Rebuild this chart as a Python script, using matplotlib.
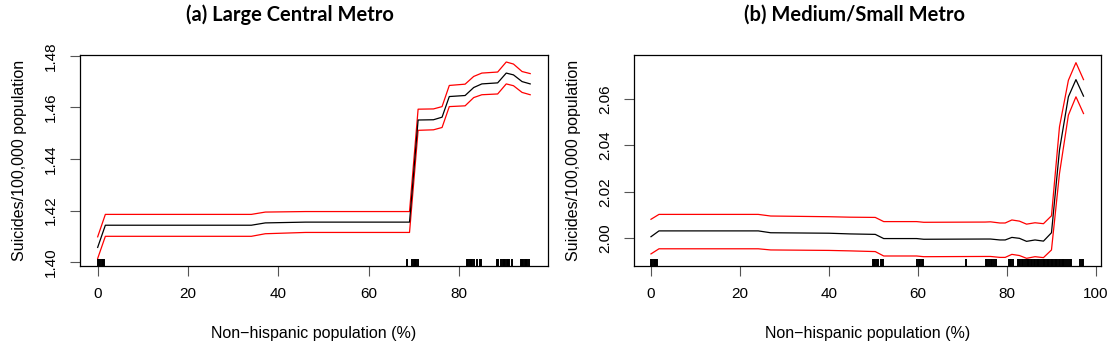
import matplotlib
matplotlib.use("Agg")
import matplotlib.pyplot as plt

# --- data ---
# (a) Large Central Metro
x_a = [0, 1.7, 34.0, 37.1, 46.0, 69.0, 70.9, 74.3, 76.2, 77.8, 81.3, 83.2, 85.0, 88.5, 90.4, 92.0, 93.9, 95.7]
mean_a = [1.4057, 1.4143, 1.4143, 1.4152, 1.4155, 1.4155, 1.4551, 1.4552, 1.4562, 1.4642, 1.4646, 1.4677,
          1.4691, 1.4695, 1.4733, 1.4726, 1.4700, 1.4691]
upper_a = [1.4098, 1.4185, 1.4185, 1.4194, 1.4196, 1.4196, 1.4593, 1.4594, 1.4603, 1.4685, 1.4690, 1.4720,
           1.4733, 1.4737, 1.4776, 1.4768, 1.4739, 1.4731]
lower_a = [1.4014, 1.4100, 1.4100, 1.4110, 1.4115, 1.4115, 1.4511, 1.4513, 1.4522, 1.4603, 1.4606, 1.4638,
           1.4649, 1.4652, 1.4691, 1.4684, 1.4658, 1.4649]
rug_a = [0, 0.3, 0.6, 0.9, 1.2, 1.5, 68.4, 69.6, 69.9, 70.2, 70.5, 70.8,
         81.7, 82.0, 82.3, 82.6, 82.9, 83.3, 83.9, 84.5, 84.9,
         88.3, 88.6, 89.3, 89.6, 89.9, 90.2, 90.5, 90.8, 91.1, 91.6,
         93.6, 93.9, 94.2, 94.5, 94.8, 95.1, 95.5]

# (b) Medium/Small Metro
x_b = [0, 1.8, 24.1, 26.9, 40.0, 44.7, 50.4, 52.3, 59.7, 61.3, 75.1, 76.3, 78.4, 79.6, 81.1, 82.8,
       84.4, 86.3, 88.2, 90.0, 91.8, 93.8, 95.5, 97.2]
mean_b = [2.0007, 2.0032, 2.0032, 2.0024, 2.0022, 2.0019, 2.0017, 1.9999, 1.9999, 1.9996, 1.9997, 1.9997,
          1.9993, 1.9993, 2.0004, 2.0000, 1.9987, 1.9993, 1.9988, 2.0024, 2.0380, 2.0609, 2.0683, 2.0612]
upper_b = [2.0082, 2.0103, 2.0103, 2.0096, 2.0093, 2.0091, 2.0090, 2.0072, 2.0072, 2.0069, 2.0070, 2.0071,
           2.0066, 2.0066, 2.0079, 2.0074, 2.0061, 2.0067, 2.0063, 2.0097, 2.0480, 2.0680, 2.0756, 2.0683]
lower_b = [1.9933, 1.9955, 1.9955, 1.9950, 1.9948, 1.9946, 1.9943, 1.9924, 1.9924, 1.9921, 1.9922, 1.9922,
           1.9918, 1.9918, 1.9931, 1.9926, 1.9914, 1.9921, 1.9917, 1.9950, 2.0279, 2.0530, 2.0609, 2.0537]
rug_b = [0, 0.3, 0.6, 0.9, 1.2, 1.4, 49.8, 50.1, 50.4, 50.7, 51.0, 51.6, 51.9, 52.2,
         59.8, 60.2, 60.5, 60.9, 61.2, 70.7, 75.2, 75.5, 75.9, 76.3, 76.6, 77.0, 77.6,
         80.4, 80.7, 81.0, 81.3, 82.4, 82.7, 83.0, 83.4, 83.7, 84.0, 84.4, 84.7, 85.0,
         85.4, 85.7, 86.1, 86.4, 86.7, 87.0, 87.3, 87.7, 88.0, 88.3, 88.6, 88.9, 89.2,
         89.5, 89.8, 90.1, 90.4, 90.7, 91.0, 91.3, 91.6, 91.9, 92.3, 92.6, 92.9, 93.3,
         93.7, 94.1, 94.5, 96.5, 96.8, 97.1]

titles = ["(a) Large Central Metro", "(b) Medium/Small Metro"]
xticks = [[0, 20, 40, 60, 80], [0, 20, 40, 60, 80, 100]]
yticks = [[1.40, 1.42, 1.44, 1.46, 1.48], [2.00, 2.02, 2.04, 2.06]]
xlabel = "Non\u2212hispanic population (%)"
ylabel = "Suicides/100,000 population"

plt.rcParams["font.family"] = ["Liberation Sans", "DejaVu Sans"]

fig = plt.figure(figsize=(11.13, 3.51), dpi=100)
ax1 = fig.add_axes([0.0722, 0.2430, 0.4198, 0.6017])
ax2 = fig.add_axes([0.5699, 0.2430, 0.4190, 0.6017])

panels = [
    (ax1, x_a, mean_a, upper_a, lower_a, rug_a, (-3.83, 99.55), (1.3986, 1.4805)),
    (ax2, x_b, mean_b, upper_b, lower_b, rug_b, (-3.75, 101.05), (1.98822, 2.0791)),
]

for i, (ax, x, m, up, lo, rug, xl, yl) in enumerate(panels):
    ax.plot(x, up, color="red", lw=0.9)
    ax.plot(x, lo, color="red", lw=0.9)
    ax.plot(x, m, color="black", lw=0.9)
    # rug along the bottom
    ax.vlines(rug, 0, 0.034, transform=ax.get_xaxis_transform(), color="black", lw=1.4)
    ax.set_xlim(*xl)
    ax.set_ylim(*yl)
    ax.set_xticks(xticks[i])
    ax.set_yticks(yticks[i])
    ax.set_yticklabels(["%.2f" % v for v in yticks[i]], rotation=90, va="center")
    ax.tick_params(direction="out", length=7, width=0.8, color="#555555", labelsize=11)
    ax.tick_params(axis="x", pad=8)
    ax.tick_params(axis="y", pad=9)
    for s in ax.spines.values():
        s.set_linewidth(0.9)
        s.set_color("black")
    ax.set_xlabel(xlabel, fontsize=11.5, labelpad=18)
    ax.set_ylabel(ylabel, fontsize=11.5, labelpad=12)

fig.text(0.2603, 0.957, titles[0], ha="center", va="center", fontsize=14.5,
         fontweight="bold", family="Lato")
fig.text(0.7673, 0.957, titles[1], ha="center", va="center", fontsize=14.5,
         fontweight="bold", family="Lato")

fig.savefig("out.png", dpi=100)
